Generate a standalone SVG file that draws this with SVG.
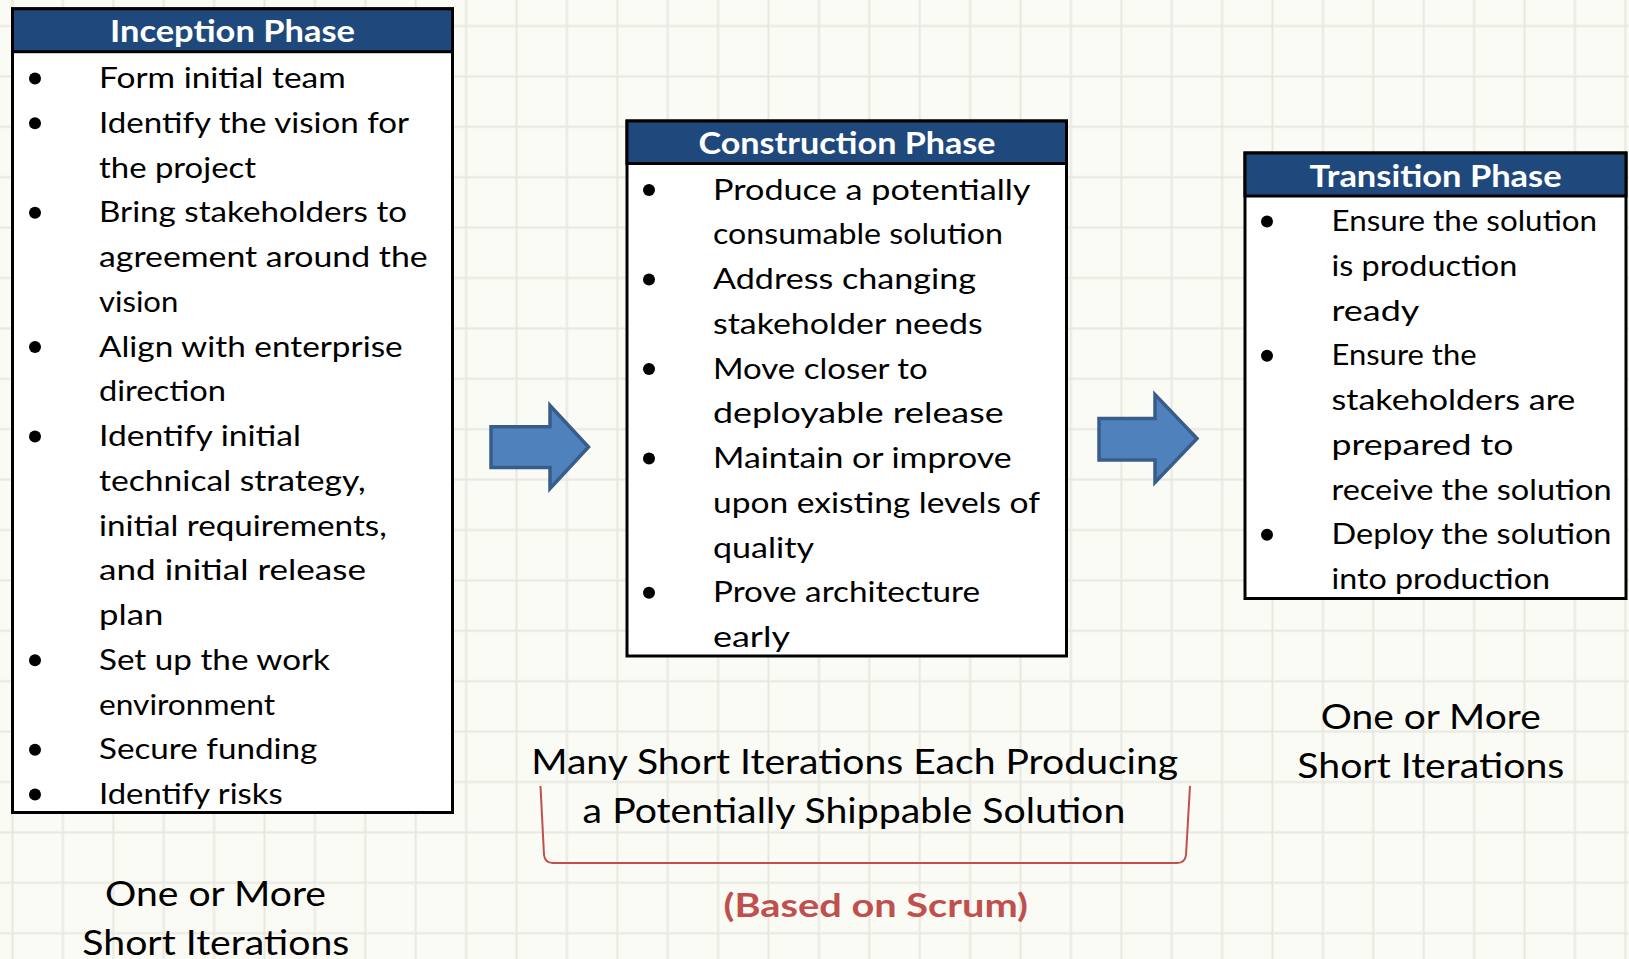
<svg xmlns="http://www.w3.org/2000/svg" width="1629" height="959" viewBox="0 0 1629 959">
<defs>
<pattern id="grid" patternUnits="userSpaceOnUse" x="-12.7" y="0.8" width="50.4" height="50.4">
<path d="M25.2 0V50.4M0 25.2H50.4" stroke="#e8e8e1" stroke-width="2" fill="none"/>
</pattern>
</defs>
<style>
.hdr{font-family:Lato,"Open Sans","Liberation Sans",sans-serif;font-weight:700;font-size:31px;fill:#fff}
.bd{font-family:Lato,"Open Sans","Liberation Sans",sans-serif;font-size:28px;fill:#000}
.cap{font-family:Lato,"Open Sans","Liberation Sans",sans-serif;font-size:35px;fill:#000}
.scrum{font-family:Lato,"Open Sans","Liberation Sans",sans-serif;font-weight:700;font-size:33px;fill:#c0504d}
.box{fill:#fff;stroke:#000;stroke-width:3}
.head{fill:#1f497d;stroke:#000;stroke-width:3}
.bul{fill:#000}
.arrow{fill:#4f81bd;stroke:#385d8a;stroke-width:3.5;stroke-linejoin:miter}
</style>
<rect width="1629" height="959" fill="#fbfbf6"/>
<rect width="1629" height="959" fill="url(#grid)"/>

<g id="connectors">
<polygon class="arrow" points="491,426.8 550,426.8 550,405.5 588.5,447 550,488.5 550,467.5 491,467.5"/>
<polygon class="arrow" points="1099,418.5 1155,418.5 1155,394.5 1197,438.5 1155,482.5 1155,460 1099,460"/>
</g>

<g id="inception">
<rect class="box" x="12.5" y="8.8" width="440" height="803.7"/>
<rect class="head" x="12.5" y="8.8" width="440" height="42.9"/>
<text class="hdr" x="110" y="42.3" textLength="245" lengthAdjust="spacingAndGlyphs">Inception Phase</text>
<g class="bul">
<circle cx="35" cy="78.5" r="6"/><circle cx="35" cy="123.25" r="6"/><circle cx="35" cy="212.75" r="6"/><circle cx="35" cy="347" r="6"/><circle cx="35" cy="436.5" r="6"/><circle cx="35" cy="660.25" r="6"/><circle cx="35" cy="749.75" r="6"/><circle cx="35" cy="794.5" r="6"/>
</g>
<text class="bd" x="99" y="88" textLength="246.7" lengthAdjust="spacingAndGlyphs">Form initial team</text>
<text class="bd" x="99" y="132.75" textLength="310" lengthAdjust="spacingAndGlyphs">Identify the vision for</text>
<text class="bd" x="99" y="177.5" textLength="157" lengthAdjust="spacingAndGlyphs">the project</text>
<text class="bd" x="99" y="222.25" textLength="308" lengthAdjust="spacingAndGlyphs">Bring stakeholders to</text>
<text class="bd" x="99" y="267" textLength="328.7" lengthAdjust="spacingAndGlyphs">agreement around the</text>
<text class="bd" x="99" y="311.75" textLength="79.3" lengthAdjust="spacingAndGlyphs">vision</text>
<text class="bd" x="99" y="356.5" textLength="303.7" lengthAdjust="spacingAndGlyphs">Align with enterprise</text>
<text class="bd" x="99" y="401.25" textLength="127" lengthAdjust="spacingAndGlyphs">direction</text>
<text class="bd" x="99" y="446" textLength="202" lengthAdjust="spacingAndGlyphs">Identify initial</text>
<text class="bd" x="99" y="490.75" textLength="266.7" lengthAdjust="spacingAndGlyphs">technical strategy,</text>
<text class="bd" x="99" y="535.5" textLength="287.7" lengthAdjust="spacingAndGlyphs">initial requirements,</text>
<text class="bd" x="99" y="580.25" textLength="267" lengthAdjust="spacingAndGlyphs">and initial release</text>
<text class="bd" x="99" y="625" textLength="64.3" lengthAdjust="spacingAndGlyphs">plan</text>
<text class="bd" x="99" y="669.75" textLength="231" lengthAdjust="spacingAndGlyphs">Set up the work</text>
<text class="bd" x="99" y="714.5" textLength="176" lengthAdjust="spacingAndGlyphs">environment</text>
<text class="bd" x="99" y="759.25" textLength="218.3" lengthAdjust="spacingAndGlyphs">Secure funding</text>
<text class="bd" x="99" y="804" textLength="183.7" lengthAdjust="spacingAndGlyphs">Identify risks</text>
</g>

<g id="construction">
<rect class="box" x="627" y="121" width="439.5" height="535"/>
<rect class="head" x="627" y="121" width="439.5" height="42.5"/>
<text class="hdr" x="698.5" y="154.3" textLength="297" lengthAdjust="spacingAndGlyphs">Construction Phase</text>
<g class="bul">
<circle cx="649" cy="190" r="6"/><circle cx="649" cy="279.5" r="6"/><circle cx="649" cy="369" r="6"/><circle cx="649" cy="458.5" r="6"/><circle cx="649" cy="592.75" r="6"/>
</g>
<text class="bd" x="713" y="199.5" textLength="317.5" lengthAdjust="spacingAndGlyphs">Produce a potentially</text>
<text class="bd" x="713" y="244.25" textLength="290" lengthAdjust="spacingAndGlyphs">consumable solution</text>
<text class="bd" x="713" y="289" textLength="263" lengthAdjust="spacingAndGlyphs">Address changing</text>
<text class="bd" x="713" y="333.75" textLength="269.6" lengthAdjust="spacingAndGlyphs">stakeholder needs</text>
<text class="bd" x="713" y="378.5" textLength="214.7" lengthAdjust="spacingAndGlyphs">Move closer to</text>
<text class="bd" x="713" y="423.25" textLength="290.6" lengthAdjust="spacingAndGlyphs">deployable release</text>
<text class="bd" x="713" y="468" textLength="298.5" lengthAdjust="spacingAndGlyphs">Maintain or improve</text>
<text class="bd" x="713" y="512.75" textLength="327" lengthAdjust="spacingAndGlyphs">upon existing levels of</text>
<text class="bd" x="713" y="557.5" textLength="101" lengthAdjust="spacingAndGlyphs">quality</text>
<text class="bd" x="713" y="602.25" textLength="267" lengthAdjust="spacingAndGlyphs">Prove architecture</text>
<text class="bd" x="713" y="647" textLength="77" lengthAdjust="spacingAndGlyphs">early</text>
</g>

<g id="transition">
<rect class="box" x="1245" y="153" width="381" height="445.5"/>
<rect class="head" x="1245" y="153" width="381" height="43"/>
<text class="hdr" x="1309.6" y="186.7" textLength="252" lengthAdjust="spacingAndGlyphs">Transition Phase</text>
<g class="bul">
<circle cx="1267" cy="221.5" r="6"/><circle cx="1267" cy="355.75" r="6"/><circle cx="1267" cy="534.75" r="6"/>
</g>
<text class="bd" x="1331.5" y="231" textLength="265.6" lengthAdjust="spacingAndGlyphs">Ensure the solution</text>
<text class="bd" x="1331.5" y="275.75" textLength="185.8" lengthAdjust="spacingAndGlyphs">is production</text>
<text class="bd" x="1331.5" y="320.5" textLength="87.8" lengthAdjust="spacingAndGlyphs">ready</text>
<text class="bd" x="1331.5" y="365.25" textLength="145" lengthAdjust="spacingAndGlyphs">Ensure the</text>
<text class="bd" x="1331.5" y="410" textLength="243.8" lengthAdjust="spacingAndGlyphs">stakeholders are</text>
<text class="bd" x="1331.5" y="454.75" textLength="182" lengthAdjust="spacingAndGlyphs">prepared to</text>
<text class="bd" x="1331.5" y="499.5" textLength="280" lengthAdjust="spacingAndGlyphs">receive the solution</text>
<text class="bd" x="1331.5" y="544.25" textLength="280" lengthAdjust="spacingAndGlyphs">Deploy the solution</text>
<text class="bd" x="1331.5" y="589" textLength="218.4" lengthAdjust="spacingAndGlyphs">into production</text>
</g>

<g id="inception-note">
<text class="cap" x="105" y="906" textLength="221" lengthAdjust="spacingAndGlyphs">One or More</text>
<text class="cap" x="82.3" y="955" textLength="267" lengthAdjust="spacingAndGlyphs">Short Iterations</text>
</g>

<g id="construction-note">
<text class="cap" x="531.2" y="774" textLength="647" lengthAdjust="spacingAndGlyphs" style="font-size:34px">Many Short Iterations Each Producing</text>
<text class="cap" x="582.6" y="823.3" textLength="542.7" lengthAdjust="spacingAndGlyphs" style="font-size:34px">a Potentially Shippable Solution</text>
<path d="M540.5 786L544 855Q545 863 553 863L1177 863Q1185 863 1186 855L1190 786" fill="none" stroke="#c0504d" stroke-width="2"/>
<text class="scrum" x="723.6" y="917" textLength="304.4" lengthAdjust="spacingAndGlyphs">(Based on Scrum)</text>
</g>

<g id="transition-note">
<text class="cap" x="1320.7" y="729.3" textLength="220" lengthAdjust="spacingAndGlyphs">One or More</text>
<text class="cap" x="1297.3" y="778.3" textLength="267" lengthAdjust="spacingAndGlyphs">Short Iterations</text>
</g>
</svg>
